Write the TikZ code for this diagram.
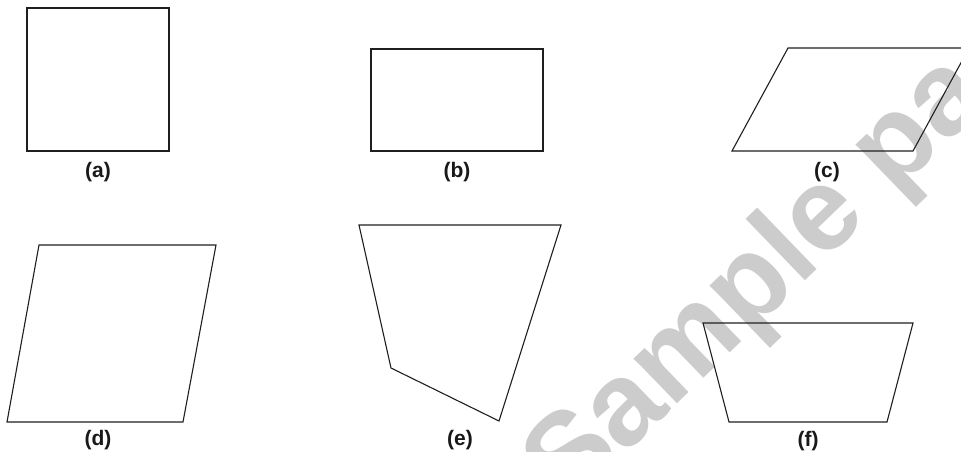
\documentclass[tikz,border=0pt]{standalone}
\usepackage{fontspec}
\setmainfont{Liberation Sans}
\begin{document}
\begin{tikzpicture}[x=1pt,y=-1pt,
  shape line/.style={draw=black!88, line width=1.1pt, line join=miter},
  caption/.style={font=\fontsize{21}{25}\selectfont\bfseries, text=black!90, inner sep=0pt, anchor=center},
  watermark/.style={font=\fontsize{118}{125}\selectfont\bfseries, text=black!20, inner sep=0pt, anchor=base west, rotate=44}]
\useasboundingbox (0,0) rectangle (961,452);
\clip (0,0) rectangle (961,452);
\fill[white] (0,0) rectangle (961,452);
% watermark
\node[watermark] (wm) at (568,510) {Sample page};
% (a) square
\coordinate (a1) at (27,8);
\coordinate (a2) at (169,8);
\coordinate (a3) at (169,151);
\coordinate (a4) at (27,151);
\draw[shape line] (a1) -- (a2) -- (a3) -- (a4) -- cycle;
\node[caption] (la) at (98,172) {(a)};
% (b) rectangle
\coordinate (b1) at (371,49);
\coordinate (b2) at (543,49);
\coordinate (b3) at (543,151);
\coordinate (b4) at (371,151);
\draw[shape line] (b1) -- (b2) -- (b3) -- (b4) -- cycle;
\node[caption] (lb) at (457,172) {(b)};
% (c) parallelogram
\coordinate (c1) at (788,48);
\coordinate (c2) at (969,48);
\coordinate (c3) at (913,151);
\coordinate (c4) at (732,151);
\draw[shape line] (c1) -- (c2) -- (c3) -- (c4) -- cycle;
\node[caption] (lc) at (827,172) {(c)};
% (d) parallelogram
\coordinate (d1) at (39,245);
\coordinate (d2) at (216,245);
\coordinate (d3) at (183,422);
\coordinate (d4) at (7,422);
\draw[shape line] (d1) -- (d2) -- (d3) -- (d4) -- cycle;
\node[caption] (ld) at (98,440) {(d)};
% (e) irregular quadrilateral
\coordinate (e1) at (359,225);
\coordinate (e2) at (561,225);
\coordinate (e3) at (499,421);
\coordinate (e4) at (391,368);
\draw[shape line] (e1) -- (e2) -- (e3) -- (e4) -- cycle;
\node[caption] (le) at (460,440) {(e)};
% (f) trapezium
\coordinate (f1) at (703,323);
\coordinate (f2) at (913,323);
\coordinate (f3) at (887,422);
\coordinate (f4) at (729,422);
\draw[shape line] (f1) -- (f2) -- (f3) -- (f4) -- cycle;
\node[caption] (lf) at (808,441) {(f)};
\end{tikzpicture}
\end{document}
